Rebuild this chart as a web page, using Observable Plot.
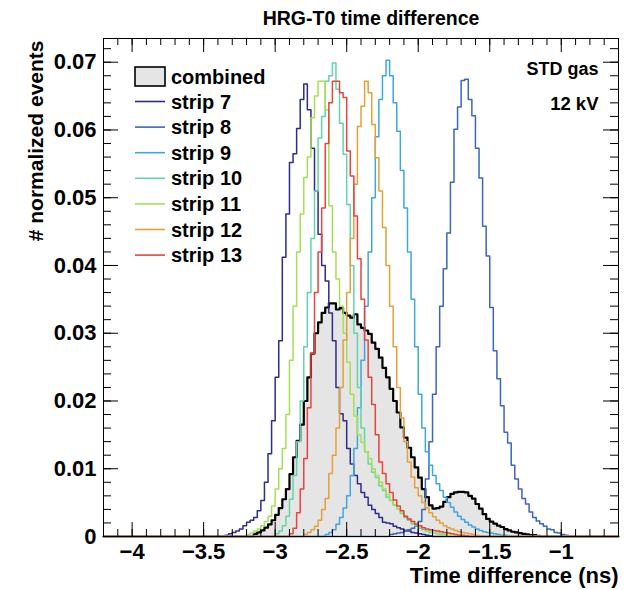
<!DOCTYPE html>
<html><head><meta charset="utf-8">
<script src="https://cdn.jsdelivr.net/npm/d3@7"></script>
<script src="https://cdn.jsdelivr.net/npm/@observablehq/plot@0.6"></script>
<style>
body{margin:0;background:#fff}
#chart svg{font-family:"Liberation Sans",Arial,Helvetica,sans-serif}
</style>
</head><body><div id="chart"></div>
<script>
// histogram binning
const binWidth = 0.025;
const rangeMin = -4.2, rangeMax = -0.6;

// series (first bin lower edge + bin contents)
const strip7Start = -3.35;
const strip7 = [0.0002,0.0004,0.0006,0.0008,0.0011,0.0016,0.0021,0.0024,0.0028,0.0038,0.0053,0.0080,0.0122,0.0171,0.0235,0.0289,0.0412,0.0476,0.0552,0.0565,0.0602,0.0645,0.0668,0.0630,0.0573,0.0510,0.0446,0.0400,0.0377,0.0330,0.0289,0.0220,0.0181,0.0171,0.0130,0.0107,0.0090,0.0078,0.0065,0.0058,0.0046,0.0040,0.0034,0.0028,0.0021,0.0020,0.0019,0.0015,0.0013,0.0011,0.0009,0.0008,0.0006,0.0005,0.0004,0.0003,0.0002,0.0001];
const strip8Start = -2.2;
const strip8 = [0.0003,0.0004,0.0005,0.0006,0.0008,0.0010,0.0012,0.0015,0.0022,0.0040,0.0085,0.0140,0.0210,0.0280,0.0340,0.0395,0.0448,0.0523,0.0601,0.0634,0.0673,0.0675,0.0645,0.0621,0.0573,0.0529,0.0458,0.0414,0.0338,0.0274,0.0233,0.0193,0.0154,0.0138,0.0105,0.0085,0.0070,0.0056,0.0048,0.0036,0.0028,0.0023,0.0019,0.0015,0.0011,0.0010,0.0006,0.0005,0.0003,0.0002,0.0001];
const strip9Start = -2.65;
const strip9 = [0.0003,0.0006,0.0010,0.0018,0.0028,0.0042,0.0060,0.0090,0.0130,0.0190,0.0260,0.0340,0.0420,0.0500,0.0590,0.0645,0.0680,0.0703,0.0680,0.0640,0.0598,0.0540,0.0485,0.0420,0.0350,0.0280,0.0210,0.0160,0.0125,0.0105,0.0090,0.0078,0.0068,0.0058,0.0050,0.0043,0.0036,0.0030,0.0025,0.0021,0.0017,0.0014,0.0011,0.0009,0.0007,0.0006,0.0005,0.0004,0.0003,0.0002,0.0002,0.0001];
const strip10Start = -3.0;
const strip10 = [0.0004,0.0008,0.0016,0.0030,0.0055,0.0090,0.0140,0.0200,0.0280,0.0360,0.0440,0.0510,0.0588,0.0620,0.0672,0.0680,0.0699,0.0660,0.0610,0.0564,0.0490,0.0400,0.0300,0.0220,0.0160,0.0125,0.0107,0.0095,0.0087,0.0075,0.0068,0.0058,0.0053,0.0046,0.0041,0.0034,0.0028,0.0024,0.0019,0.0016,0.0012,0.0010,0.0008,0.0006,0.0005,0.0004,0.0003,0.0002,0.0001];
const strip11Start = -3.2;
const strip11 = [0.0003,0.0005,0.0008,0.0011,0.0016,0.0022,0.0030,0.0045,0.0070,0.0100,0.0130,0.0180,0.0260,0.0340,0.0420,0.0476,0.0530,0.0560,0.0618,0.0650,0.0672,0.0672,0.0630,0.0488,0.0420,0.0380,0.0340,0.0300,0.0257,0.0210,0.0178,0.0150,0.0139,0.0125,0.0115,0.0100,0.0090,0.0080,0.0070,0.0062,0.0053,0.0047,0.0041,0.0036,0.0030,0.0026,0.0022,0.0018,0.0015,0.0013,0.0010,0.0008,0.0006,0.0005,0.0004,0.0003,0.0002,0.0001];
const strip12Start = -2.8;
const strip12 = [0.0003,0.0006,0.0010,0.0015,0.0024,0.0040,0.0056,0.0093,0.0120,0.0160,0.0220,0.0290,0.0360,0.0440,0.0520,0.0605,0.0635,0.0672,0.0655,0.0608,0.0559,0.0510,0.0456,0.0400,0.0340,0.0280,0.0220,0.0175,0.0140,0.0110,0.0088,0.0072,0.0060,0.0050,0.0042,0.0035,0.0029,0.0024,0.0020,0.0016,0.0013,0.0011,0.0009,0.0007,0.0006,0.0005,0.0004,0.0003,0.0002,0.0001];
const strip13Start = -2.9;
const strip13 = [0.0004,0.0012,0.0035,0.0070,0.0115,0.0190,0.0270,0.0360,0.0420,0.0485,0.0580,0.0640,0.0672,0.0672,0.0655,0.0648,0.0569,0.0532,0.0473,0.0410,0.0350,0.0290,0.0235,0.0195,0.0150,0.0110,0.0093,0.0078,0.0065,0.0054,0.0045,0.0038,0.0030,0.0026,0.0022,0.0018,0.0016,0.0013,0.0011,0.0010,0.0009,0.0008,0.0007,0.0006,0.0005,0.0004,0.0003,0.0002,0.0002,0.0001];
const combinedStart = -3.15;
const combined = [0.0004,0.0006,0.0009,0.0013,0.0018,0.0024,0.0032,0.0042,0.0055,0.0070,0.0092,0.0117,0.0141,0.0165,0.0200,0.0235,0.0270,0.0300,0.0316,0.0330,0.0338,0.0344,0.0344,0.0335,0.0337,0.0330,0.0326,0.0323,0.0328,0.0313,0.0308,0.0304,0.0299,0.0286,0.0277,0.0264,0.0249,0.0235,0.0218,0.0200,0.0183,0.0161,0.0146,0.0131,0.0117,0.0102,0.0087,0.0070,0.0058,0.0046,0.0041,0.0042,0.0044,0.0051,0.0058,0.0063,0.0065,0.0066,0.0066,0.0065,0.0060,0.0056,0.0048,0.0041,0.0033,0.0026,0.0022,0.0019,0.0016,0.0014,0.0011,0.0009,0.0007,0.0006,0.0005,0.0004,0.0003,0.0002,0.0002,0.0001];

const stripNames = ["strip 7","strip 8","strip 9","strip 10","strip 11","strip 12","strip 13"];
const stripColors = ["#2e2c8c","#3b66bd","#3ea7df","#62d5ac","#a5e052","#e4a136","#e8443c"];
const stripValues = [strip7, strip8, strip9, strip10, strip11, strip12, strip13];
const stripStarts = [strip7Start, strip8Start, strip9Start, strip10Start, strip11Start, strip12Start, strip13Start];

// axis ticks
const xTickLabels = [-4, -3.5, -3, -2.5, -2, -1.5, -1];
const yTickLabels = [0, 0.01, 0.02, 0.03, 0.04, 0.05, 0.06, 0.07];
const xMinorTicks = d3.range(-42, -5).map(i => i / 10);
const yMinorTicks = d3.range(0, 37).map(i => i * 0.002);

const nBins = Math.round((rangeMax - rangeMin) / binWidth);
function histPoints(start, values) {
  const offset = Math.round((start - rangeMin) / binWidth);
  const pts = [];
  for (let i = 0; i < nBins; i++) {
    const v = (i >= offset && i < offset + values.length) ? values[i - offset] : 0;
    const lo = rangeMin + i * binWidth, hi = lo + binWidth;
    pts.push({t: lo, v}, {t: hi, v});
  }
  return pts;
}
const combinedPts = histPoints(combinedStart, combined);
const stripPts = stripValues.map((vals, i) => histPoints(stripStarts[i], vals));

const W = 641, H = 590, mL = 103, mR = 23, mT = 38, mB = 54;
const fw = W - mL - mR, fh = H - mT - mB;

const chart = Plot.plot({
  width: W, height: H,
  marginLeft: mL, marginRight: mR, marginTop: mT, marginBottom: mB,
  x: {domain: [rangeMin, rangeMax]},
  y: {domain: [0, 0.0735]},
  style: {fontFamily: "'Liberation Sans', Arial, Helvetica, sans-serif", fontSize: "22px", fontWeight: "bold", color: "black", background: "white"},
  marks: [
    Plot.areaY(combinedPts, {x: "t", y1: 0, y2: "v", fill: "#e5e5e5"}),
    Plot.line(combinedPts, {x: "t", y: "v", stroke: "black", strokeWidth: 2.2}),
    ...stripPts.map((pts, i) => Plot.line(pts, {x: "t", y: "v", stroke: stripColors[i], strokeWidth: 1.5})),
    Plot.ruleX(xMinorTicks, {insetTop: fh - 7, stroke: "black"}),
    Plot.ruleX(xTickLabels, {insetTop: fh - 14, stroke: "black"}),
    Plot.ruleX(xMinorTicks, {insetBottom: fh - 7, stroke: "black"}),
    Plot.ruleX(xTickLabels, {insetBottom: fh - 14, stroke: "black"}),
    Plot.ruleY(yMinorTicks, {insetRight: fw - 8, stroke: "black"}),
    Plot.ruleY(yTickLabels, {insetRight: fw - 15, stroke: "black"}),
    Plot.ruleY(yMinorTicks, {insetLeft: fw - 8, stroke: "black"}),
    Plot.ruleY(yTickLabels, {insetLeft: fw - 15, stroke: "black"}),
    Plot.frame({stroke: "black"}),
    Plot.axisX(xTickLabels, {tickSize: 0, tickPadding: 7, label: null, fontSize: 22,
      tickFormat: d => (d < 0 ? "\u2212" : "") + Math.abs(d)}),
    Plot.axisY(yTickLabels, {tickSize: 0, tickPadding: 7, label: null, fontSize: 22,
      tickFormat: d => d === 0 ? "0" : d.toFixed(2)}),
    Plot.text(["HRG-T0 time difference"], {frameAnchor: "top", lineAnchor: "middle", dx: 10, dy: -20, fontSize: 19.5}),
    Plot.text(["Time difference (ns)"], {frameAnchor: "bottom-right", lineAnchor: "middle", textAnchor: "end", dy: 39, fontSize: 22}),
    Plot.text(["# normalized events"], {frameAnchor: "top-left", lineAnchor: "middle", textAnchor: "end", rotate: -90, dx: -67, dy: 2, fontSize: 21}),
    Plot.text(["STD gas"], {frameAnchor: "top-right", lineAnchor: "middle", textAnchor: "end", dx: -20, dy: 31, fontSize: 18}),
    Plot.text(["12 kV"], {frameAnchor: "top-right", lineAnchor: "middle", textAnchor: "end", dx: -20, dy: 66, fontSize: 18.5})
  ]
});
document.getElementById("chart").appendChild(chart);

// legend
const svg = d3.select(chart);
const lg = svg.append("g").attr("font-size", 20).attr("font-weight", "bold").attr("text-anchor", "start");
lg.append("rect").attr("x", 135).attr("y", 67).attr("width", 30).attr("height", 19)
  .attr("fill", "#e5e5e5").attr("stroke", "black").attr("stroke-width", 1.6);
lg.append("text").attr("x", 171).attr("y", 77).attr("dy", "0.35em").text("combined");
stripNames.forEach((name, i) => {
  const y = 101.5 + i * 25.6;
  lg.append("line").attr("x1", 135).attr("x2", 165).attr("y1", y).attr("y2", y)
    .attr("stroke", stripColors[i]).attr("stroke-width", 1.6);
  lg.append("text").attr("x", 171).attr("y", y).attr("dy", "0.35em").text(name);
});
</script>
</body></html>
